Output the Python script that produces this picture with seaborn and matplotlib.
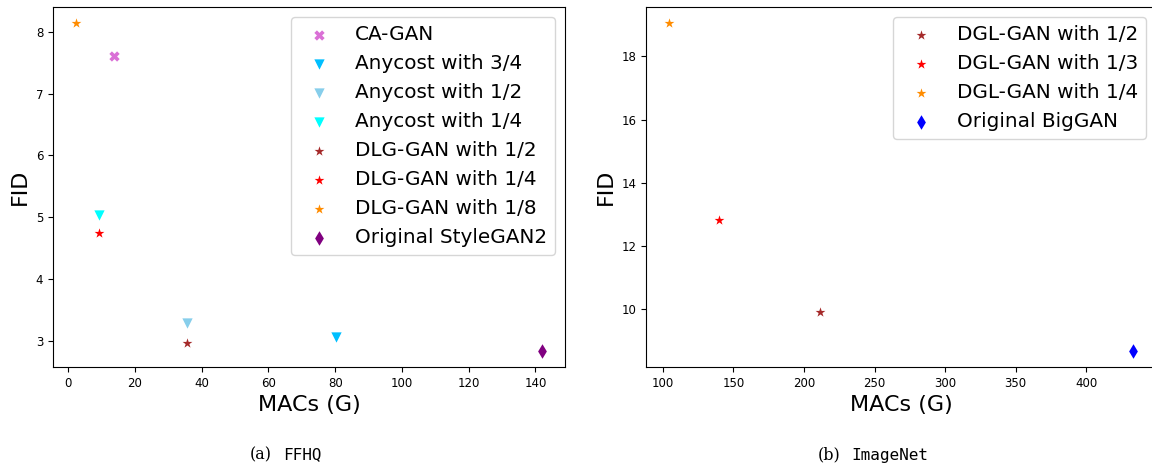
import matplotlib
matplotlib.use("Agg")
import matplotlib.pyplot as plt
import seaborn as sns

# ---- FFHQ panel data ----
ffhq_labels = ["CA-GAN", "Anycost with 3/4", "Anycost with 1/2", "Anycost with 1/4",
               "DLG-GAN with 1/2", "DLG-GAN with 1/4", "DLG-GAN with 1/8", "Original StyleGAN2"]
ffhq_macs = [13.6, 80.2, 35.6, 9.1, 35.6, 9.1, 2.4, 141.9]
ffhq_fid = [7.60, 3.06, 3.29, 5.03, 2.97, 4.75, 8.135, 2.84]
ffhq_colors = ["orchid", "deepskyblue", "skyblue", "cyan", "brown", "red", "darkorange", "purple"]
ffhq_markers = ["X", "v", "v", "v", "*", "*", "*", "d"]

# ---- ImageNet panel data ----
imnet_labels = ["DGL-GAN with 1/2", "DGL-GAN with 1/3", "DGL-GAN with 1/4", "Original BigGAN"]
imnet_macs = [211.5, 139.7, 104.5, 433.0]
imnet_fid = [9.93, 12.84, 19.04, 8.70]
imnet_colors = ["brown", "red", "darkorange", "blue"]
imnet_markers = ["*", "*", "*", "d"]

caption_tags = ["(a)", "(b)"]
caption_names = ["FFHQ", "ImageNet"]

W, H = 1152, 465
fig = plt.figure(figsize=(W / 100, H / 100), dpi=100)

ax1 = fig.add_axes([53 / W, 1 - 367 / H, (565 - 53) / W, (367 - 7) / H])
ax2 = fig.add_axes([646 / W, 1 - 367 / H, (1156 - 646) / W, (367 - 7) / H])

def draw(ax, labels, xs, ys, colors, markers):
    for lab, x, y, c, m in zip(labels, xs, ys, colors, markers):
        sns.scatterplot(x=[x], y=[y], ax=ax, color=c, marker=m, s=55,
                        linewidth=0, label=lab)
    ax.legend(loc="upper right", fontsize=14.4)
    ax.set_xlabel("MACs (G)", fontsize=16)
    ax.set_ylabel("FID", fontsize=16)
    ax.tick_params(labelsize=8.5)

draw(ax1, ffhq_labels, ffhq_macs, ffhq_fid, ffhq_colors, ffhq_markers)
draw(ax2, imnet_labels, imnet_macs, imnet_fid, imnet_colors, imnet_markers)

for tag, name, x0 in zip(caption_tags, caption_names, [250, 818]):
    fig.text(x0 / W, 1 - 455 / H, tag, ha="left", va="center",
             fontsize=11.5, family="DejaVu Serif")
    fig.text((x0 + 33) / W, 1 - 455 / H, name, ha="left", va="center",
             fontsize=11.5, family="DejaVu Sans Mono")

fig.savefig("out.png", dpi=100)
